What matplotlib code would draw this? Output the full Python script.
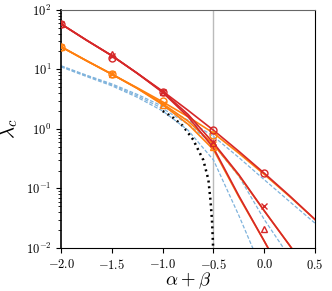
import numpy as np
import matplotlib
matplotlib.use('Agg')
import matplotlib.pyplot as plt
from matplotlib.ticker import FuncFormatter, FixedLocator

plt.rcParams['mathtext.fontset'] = 'cm'

x_grid = [-2.0, -1.75, -1.5, -1.25, -1.0, -0.75, -0.5, -0.25, 0.0, 0.25, 0.5]

red_1 = [58, 31, 17, 8.6, 4.3, 2.05, 0.95, 0.42, 0.18, 0.075, 0.03]
red_2 = [58, 31, 17, 8.6, 4.2, 1.75, 0.58, 0.17, 0.042, 0.011, 0.0028]
red_3 = [58, 31, 17, 8.6, 4.1, 1.6, 0.48, 0.075, 0.013, 0.0022, 0.0003]

orange_1 = [24, 14, 8.3, 4.9, 2.85, 1.6, 0.85, 0.39, 0.172, 0.073, 0.03]
orange_2 = [24, 14, 8.3, 4.8, 2.65, 1.35, 0.55, 0.165, 0.042, 0.011, 0.0028]
orange_3 = [24, 14, 8.3, 4.8, 2.55, 1.2, 0.45, 0.072, 0.013, 0.0022, 0.0003]

blue_1 = [11.5, 8.0, 5.7, 3.8, 2.4, 1.4, 0.75, 0.33, 0.14, 0.06, 0.026]
blue_2 = [11.3, 7.8, 5.5, 3.6, 2.2, 1.2, 0.55, 0.16, 0.03, 0.007, 0.0015]
blue_3 = [11.0, 7.6, 5.3, 3.4, 2.0, 0.95, 0.3, 0.035, 0.0035, 0.0003, 0.00003]

x_dot = [-1.0, -0.9, -0.8, -0.7, -0.6, -0.55, -0.53, -0.515, -0.505, -0.501]
y_dot = [2.0, 1.55, 1.12, 0.66, 0.3, 0.14, 0.064, 0.03, 0.012, 0.004]

# simulation points
x_red = [-2.0, -1.5, -1.0, -0.5, 0.0]
red_circ = [58, 15.5, 4.2, 0.96, 0.18]
red_x = [58, 17, 4.2, 0.6, 0.05]
red_tri = [58, 18, 4.2, 0.58, 0.021]

x_orange = [-2.0, -1.5, -1.0, -0.5]
orange_circ = [24, 8.3, 2.9, 0.8]
orange_x = [24, 8.3, 2.6, 0.55]
orange_tri = [24, 8.3, 2.55, 0.5]

RED = '#d62728'
ORANGE = '#ff7f0e'
BLUE = '#7fb3dc'

fig = plt.figure(figsize=(3.32, 2.91), dpi=100)
ax = fig.add_axes([0.184, 0.148, 0.765, 0.818])

ax.axvline(-0.5, color='#bbbbbb', lw=1.0, zorder=1)

ax.plot(x_dot, y_dot, color='black', lw=1.8, ls=(0, (0.8, 1.5)), zorder=1.5)
for ys in (blue_1, blue_2, blue_3):
    ax.plot(x_grid, ys, color=BLUE, lw=0.9, ls=(0, (3, 1.5)), zorder=2)

for ys in (orange_1, orange_2, orange_3):
    ax.plot(x_grid, ys, color=ORANGE, lw=1.2, zorder=3)
for ys in (red_1, red_2, red_3):
    ax.plot(x_grid, ys, color=RED, lw=1.2, zorder=4)

mk = dict(ls='none', mfc='none', ms=5, mew=1.0)
ax.plot(x_orange, orange_circ, marker='o', color=ORANGE, zorder=5, **mk)
ax.plot(x_orange, orange_x, marker='x', color=ORANGE, zorder=5, **mk)
ax.plot(x_orange, orange_tri, marker='^', color=ORANGE, zorder=5, **mk)
ax.plot(x_red, red_circ, marker='o', color=RED, zorder=6, **mk)
ax.plot(x_red, red_x, marker='x', color=RED, zorder=6, **mk)
ax.plot(x_red, red_tri, marker='^', color=RED, zorder=6, **mk)

ax.set_yscale('log')
ax.set_xlim(-2.0, 0.5)
ax.set_ylim(1e-2, 1e2)

ax.xaxis.set_major_locator(FixedLocator([-2.0, -1.5, -1.0, -0.5, 0.0, 0.5]))
ax.xaxis.set_major_formatter(FuncFormatter(lambda v, p: '$%.1f$' % v))
ax.yaxis.set_major_formatter(FuncFormatter(lambda v, p: '$10^{%d}$' % int(round(np.log10(v)))))
ax.tick_params(axis='both', which='both', direction='out', labelsize=9,
               top=False, right=False)
ax.tick_params(axis='y', which='minor', length=2)

ax.spines['top'].set_color('#666666')
ax.spines['left'].set_linewidth(1.2)

ax.set_xlabel(r'$\alpha+\beta$', fontsize=13.5, labelpad=-1)
ax.set_ylabel(r'$\lambda_c$', fontsize=15, labelpad=4)

fig.savefig('out.png', dpi=100)
